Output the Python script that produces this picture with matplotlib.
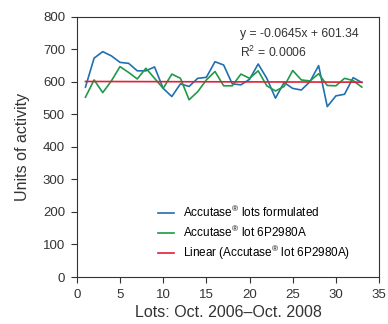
import numpy as np
import matplotlib.pyplot as plt

plt.rcParams['font.family'] = ['Liberation Sans', 'DejaVu Sans']
plt.rcParams['mathtext.fontset'] = 'custom'
plt.rcParams['mathtext.rm'] = 'Liberation Sans'
plt.rcParams['mathtext.it'] = 'Liberation Sans:italic'
plt.rcParams['mathtext.bf'] = 'Liberation Sans:bold'

# Lot numbers and activity values
lots = list(range(1, 34))
formulated = [584, 673, 693, 680, 660, 657, 634, 634, 646, 580,
              555, 594, 586, 611, 614, 662, 652, 594, 591, 608,
              655, 611, 550, 598, 580, 575, 601, 650, 524, 557,
              562, 613, 598]
lot_6p2980a = [553, 606, 567, 603, 647, 629, 609, 642, 611, 580,
               624, 611, 545, 570, 606, 632, 588, 588, 624, 611,
               634, 588, 572, 586, 635, 606, 603, 625, 589, 588,
               611, 604, 584]
slope = -0.0645
intercept = 601.34
r2 = 0.0006

fig = plt.figure(figsize=(3.88, 3.24), dpi=100)
ax = fig.add_axes([0.198, 0.145, 0.779, 0.803])

reg = '$^{\\mathrm{\u00ae}}$'
x = np.array(lots)
ax.plot(x, formulated, color='#2070b0', lw=1.2, label='Accutase' + reg + ' lots formulated')
ax.plot(x, lot_6p2980a, color='#1e9a48', lw=1.2, label='Accutase' + reg + ' lot 6P2980A')
ax.plot(x, slope * x + intercept, color='#e02035', lw=1.2,
        label='Linear (Accutase' + reg + ' lot 6P2980A)')

ax.set_xlim(0, 35)
ax.set_ylim(0, 800)
ax.set_xticks(range(0, 36, 5))
ax.set_yticks(range(0, 801, 100))
ax.tick_params(labelsize=9.5, length=4.5, width=0.8, pad=4, color='#333333', labelcolor='#333333')
for s in ax.spines.values():
    s.set_linewidth(0.8)
    s.set_color('#333333')

ax.set_xlabel('Lots: Oct. 2006\u2013Oct. 2008', fontsize=11.5, color='#333333', labelpad=3)
ax.set_ylabel('Units of activity', fontsize=11.5, color='#333333', labelpad=9)

ax.text(0.54, 0.935, 'y = -0.0645x + 601.34', transform=ax.transAxes, fontsize=8.8,
        color='#333333', va='center')
ax.text(0.54, 0.865, 'R$^2$ = 0.0006', transform=ax.transAxes, fontsize=8.8,
        color='#333333', va='center')

ax.legend(loc='lower left', bbox_to_anchor=(0.235, 0.015), frameon=False, fontsize=8.5,
          handlelength=1.35, handletextpad=0.75, labelspacing=0.38)

fig.savefig('out.png', dpi=100)
